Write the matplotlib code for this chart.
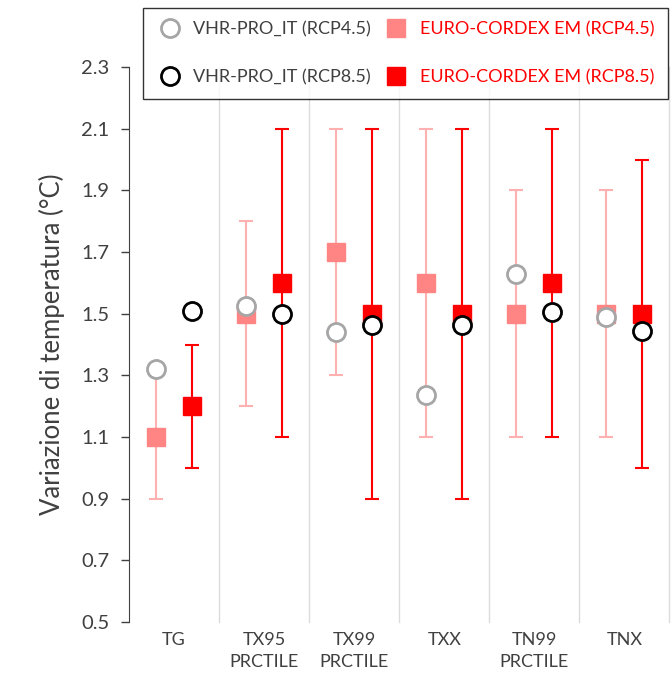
import matplotlib.pyplot as plt
import numpy as np

plt.rcParams['font.family'] = ['Lato', 'DejaVu Sans']

# Data
categories = ["TG", "TX95\nPRCTILE", "TX99\nPRCTILE", "TXX", "TN99\nPRCTILE", "TNX"]

vhr_rcp45 = [1.32, 1.525, 1.44, 1.235, 1.63, 1.49]
vhr_rcp85 = [1.51, 1.50, 1.465, 1.465, 1.505, 1.445]

cordex_rcp45 = [1.1, 1.5, 1.7, 1.6, 1.5, 1.5]
cordex_rcp45_lo = [0.9, 1.2, 1.3, 1.1, 1.1, 1.1]
cordex_rcp45_hi = [1.3, 1.8, 2.1, 2.1, 1.9, 1.9]

cordex_rcp85 = [1.2, 1.6, 1.5, 1.5, 1.6, 1.5]
cordex_rcp85_lo = [1.0, 1.1, 0.9, 0.9, 1.1, 1.0]
cordex_rcp85_hi = [1.4, 2.1, 2.1, 2.1, 2.1, 2.0]

yticks = [0.5, 0.7, 0.9, 1.1, 1.3, 1.5, 1.7, 1.9, 2.1, 2.3]

LIGHT_RED = "#ff8585"
LIGHT_RED_BAR = "#ffb0b0"
RED = "#ff0000"
GRAY = "#a6a6a6"
TXT = "#404040"

x = np.arange(len(categories))
off = 0.2

fig = plt.figure(figsize=(6.72, 6.77), dpi=100)
ax = fig.add_axes([0.192, 0.081, 0.804, 0.820])

# category separators
for s in x + 0.5:
    ax.plot([s, s], [0.5, 2.3], color="#dcdcdc", lw=1, zorder=0, clip_on=False)

e45 = [np.array(cordex_rcp45) - np.array(cordex_rcp45_lo),
       np.array(cordex_rcp45_hi) - np.array(cordex_rcp45)]
e85 = [np.array(cordex_rcp85) - np.array(cordex_rcp85_lo),
       np.array(cordex_rcp85_hi) - np.array(cordex_rcp85)]

ax.errorbar(x - off, cordex_rcp45, yerr=e45, fmt="none", ecolor=LIGHT_RED_BAR,
            elinewidth=1.5, capsize=5, capthick=1.5, zorder=2)
ax.errorbar(x + off, cordex_rcp85, yerr=e85, fmt="none", ecolor=RED,
            elinewidth=1.5, capsize=5, capthick=1.5, zorder=2)

sq45, = ax.plot(x - off, cordex_rcp45, "s", color=LIGHT_RED, ms=12.5, ls="none", zorder=3,
                label="EURO-CORDEX EM (RCP4.5)")
sq85, = ax.plot(x + off, cordex_rcp85, "s", color=RED, ms=12.5, ls="none", zorder=3,
                label="EURO-CORDEX EM (RCP8.5)")
c45, = ax.plot(x - off, vhr_rcp45, "o", mfc="white", mec=GRAY, mew=2, ms=13, ls="none",
               zorder=4, label="VHR-PRO_IT (RCP4.5)")
c85, = ax.plot(x + off, vhr_rcp85, "o", mfc="white", mec="black", mew=2, ms=13, ls="none",
               zorder=4, label="VHR-PRO_IT (RCP8.5)")

ax.set_xlim(-0.5, 5.5)
ax.set_ylim(0.5, 2.3)
ax.set_yticks(yticks)
ax.set_yticklabels([f"{v:.1f}" for v in yticks], fontsize=14.5, color=TXT)
ax.set_xticks(x)
ax.set_xticklabels(categories, fontsize=13, color=TXT, linespacing=1.45)
ax.tick_params(axis="x", length=0, pad=7)
ax.tick_params(axis="y", direction="out", length=6, width=1, color=TXT, pad=8)
for sp in ["top", "right", "bottom"]:
    ax.spines[sp].set_visible(False)
ax.spines["left"].set_color(TXT)
ax.set_ylabel("Variazione di temperatura (°C)", fontsize=18.5, color=TXT, labelpad=12)

leg = fig.legend(handles=[c45, c85, sq45, sq85], ncol=2, loc="upper right",
                 bbox_to_anchor=(0.994, 0.988), borderaxespad=0, fontsize=13,
                 frameon=True, fancybox=False, edgecolor="black", borderpad=0.75,
                 labelspacing=1.75, columnspacing=0.65, handletextpad=0.55,
                 handlelength=1.5)
leg.get_frame().set_linewidth(1)
leg.set_zorder(10)
for t in leg.get_texts():
    if t.get_text().startswith("EURO"):
        t.set_color(RED)
    else:
        t.set_color(TXT)

fig.savefig("out.png", dpi=100)
